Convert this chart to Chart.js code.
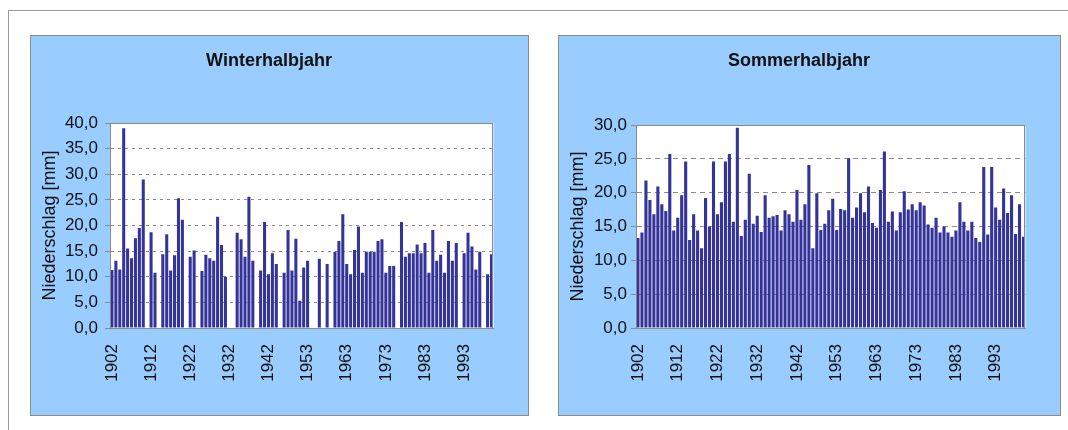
<!DOCTYPE html>
<html>
<head>
<meta charset="utf-8">
<script src="https://cdn.jsdelivr.net/npm/chart.js@4.4.1/dist/chart.umd.min.js"></script>
<style>
html,body{margin:0;padding:0;background:#fff;width:1068px;height:430px;overflow:hidden;}
#frame{position:absolute;left:8px;top:10px;width:1080px;height:440px;border-top:1px solid #9a9a9a;border-left:1px solid #9a9a9a;}
.panel{position:absolute;background:#99CCFF;border:1px solid #8c8c8c;box-sizing:border-box;}
canvas{display:block;}
</style>
</head>
<body>
<div id="frame"></div>
<div class="panel" style="left:30px;top:35px;width:499px;height:381px;"><canvas id="cWinter" width="497" height="379"></canvas></div>
<div class="panel" style="left:558px;top:35px;width:503px;height:381px;"><canvas id="cSommer" width="501" height="379"></canvas></div>
<script>
// ---- DATA ----
const years = [
 1902,1903,1904,1905,1906,1907,1908,1909,1910,1911,
 1912,1913,1914,1915,1916,1917,1918,1919,1920,1921,
 1922,1923,1924,1925,1926,1927,1928,1929,1930,1931,
 1932,1933,1934,1935,1936,1937,1938,1939,1940,1941,
 1942,1943,1944,1946,1947,1948,1949,1950,1951,1952,
 1953,1954,1955,1956,1957,1958,1959,1960,1961,1962,
 1963,1964,1965,1966,1967,1968,1969,1970,1971,1972,
 1973,1974,1975,1976,1977,1978,1979,1980,1981,1982,
 1983,1984,1985,1986,1987,1988,1989,1990,1991,1992,
 1993,1994,1995,1996,1997,1998,1999,2000
];
const tickYears = ['1902','1912','1922','1932','1942','1953','1963','1973','1983','1993'];

const winterValues = [
 11.3,13.1,11.4,39.0,15.5,13.6,17.5,19.5,29.0,null,
 18.7,10.8,null,14.4,18.3,11.2,14.2,25.3,21.1,null,
 13.9,15.1,null,11.1,14.3,13.6,13.1,21.7,16.2,10.0,
 null,null,18.6,17.3,13.9,25.6,13.1,null,11.2,20.7,
 10.5,14.6,12.5,null,10.8,19.1,11.2,17.4,5.3,11.8,
 13.1,null,null,13.5,null,12.5,null,14.9,17.0,22.2,
 12.5,10.5,15.2,19.8,10.8,14.9,14.9,14.9,17.0,17.3,
 10.8,12.1,12.1,null,20.7,13.9,14.6,14.6,16.3,14.6,
 16.6,10.8,19.1,13.1,14.3,10.8,17.0,13.1,16.6,null,
 14.6,18.6,15.9,11.4,14.9,null,10.5,14.4
];
const sommerValues = [
 13.3,14.1,21.8,18.9,16.8,20.9,18.3,17.3,25.7,14.4,
 16.3,19.6,24.6,13.0,16.8,14.4,11.8,19.2,15.0,24.6,
 16.8,18.6,24.6,25.7,15.7,29.6,13.6,16.0,22.8,15.4,
 16.6,14.2,19.6,16.3,16.5,16.7,14.4,17.4,16.8,15.7,
 20.4,16.0,18.3,24.1,11.8,19.9,14.5,15.4,17.4,19.1,
 14.5,17.6,17.4,25.1,16.3,17.8,19.9,17.1,20.9,15.5,
 14.8,20.4,26.1,15.7,17.2,14.4,17.1,20.2,17.5,18.3,
 17.4,18.6,18.1,15.3,14.8,16.3,14.1,15.0,14.1,13.5,
 14.4,18.6,15.7,14.4,15.7,13.3,12.7,23.8,13.8,23.8,
 17.8,16.0,20.6,17.0,19.6,13.9,18.3,13.5
];
const winterTitle = 'Winterhalbjahr';
const sommerTitle = 'Sommerhalbjahr';
const yAxisTitle = 'Niederschlag [mm]';

// ---- CHART ----
const FONT = "'Liberation Sans', Arial, sans-serif";
const plotFrame = {
  id: 'plotFrame',
  beforeDraw(chart) {
    const {ctx, chartArea: a} = chart;
    ctx.save();
    ctx.fillStyle = '#ffffff';
    ctx.fillRect(a.left, a.top, a.right - a.left, a.bottom - a.top);
    ctx.restore();
  },
  afterDraw(chart) {
    const {ctx, chartArea: a} = chart;
    ctx.save();
    ctx.strokeStyle = '#8a8a8a';
    ctx.lineWidth = 1;
    ctx.strokeRect(Math.round(a.left) + 0.5, Math.round(a.top) + 0.5,
                   Math.round(a.right - a.left) - 1, Math.round(a.bottom - a.top));
    ctx.restore();
  }
};

function makeChart(id, title, values, yMax, cfg) {
  return new Chart(document.getElementById(id), {
    type: 'bar',
    data: {
      labels: years.map(String),
      datasets: [{
        data: values,
        backgroundColor: '#33339A',
        borderWidth: 0,
        barPercentage: 0.78,
        categoryPercentage: 1.0
      }]
    },
    options: {
      responsive: false,
      animation: false,
      devicePixelRatio: 1,
      layout: { padding: { left: 0, right: 21, top: 0, bottom: 0 } },
      plugins: {
        legend: { display: false },
        tooltip: { enabled: false },
        title: {
          display: true,
          text: title,
          color: '#111',
          font: { family: FONT, size: 18, weight: 'bold' },
          padding: { top: 14, bottom: cfg.top - 14 - 21.6 }
        }
      },
      scales: {
        x: {
          grid: { display: false, drawTicks: false },
          border: { display: true, color: '#8a8a8a' },
          ticks: {
            autoSkip: false,
            minRotation: 90,
            maxRotation: 90,
            padding: 16,
            color: '#111',
            font: { family: FONT, size: 17 },
            callback: function(v, i) {
              const l = this.getLabelForValue(v);
              return tickYears.includes(l) ? l : '';
            }
          },
          afterFit(s) { s.height = 379 - cfg.bottom; }
        },
        y: {
          min: 0,
          max: yMax,
          ticks: {
            stepSize: 5,
            padding: cfg.tickPad,
            color: '#111',
            font: { family: FONT, size: 17 },
            callback: v => v.toFixed(1).replace('.', ',')
          },
          grid: {
            color: '#8c8c8c',
            lineWidth: 1,
            tickLength: 5,
            tickColor: '#8c8c8c',
            tickBorderDash: []
          },
          border: { display: true, color: '#8a8a8a', dash: cfg.dash },
          title: {
            display: true,
            text: yAxisTitle,
            color: '#111',
            font: { family: FONT, size: 18 },
            padding: { top: 8, bottom: 0 }
          },
          afterFit(s) { s.width = cfg.left; }
        }
      }
    },
    plugins: [plotFrame]
  });
}

makeChart('cWinter', winterTitle, winterValues, 40, { left: 79, top: 87, bottom: 292, tickPad: 7, dash: [3, 4] });
makeChart('cSommer', sommerTitle, sommerValues, 30, { left: 77, top: 89, bottom: 292, tickPad: 4, dash: [5, 4] });
</script>
</body>
</html>
